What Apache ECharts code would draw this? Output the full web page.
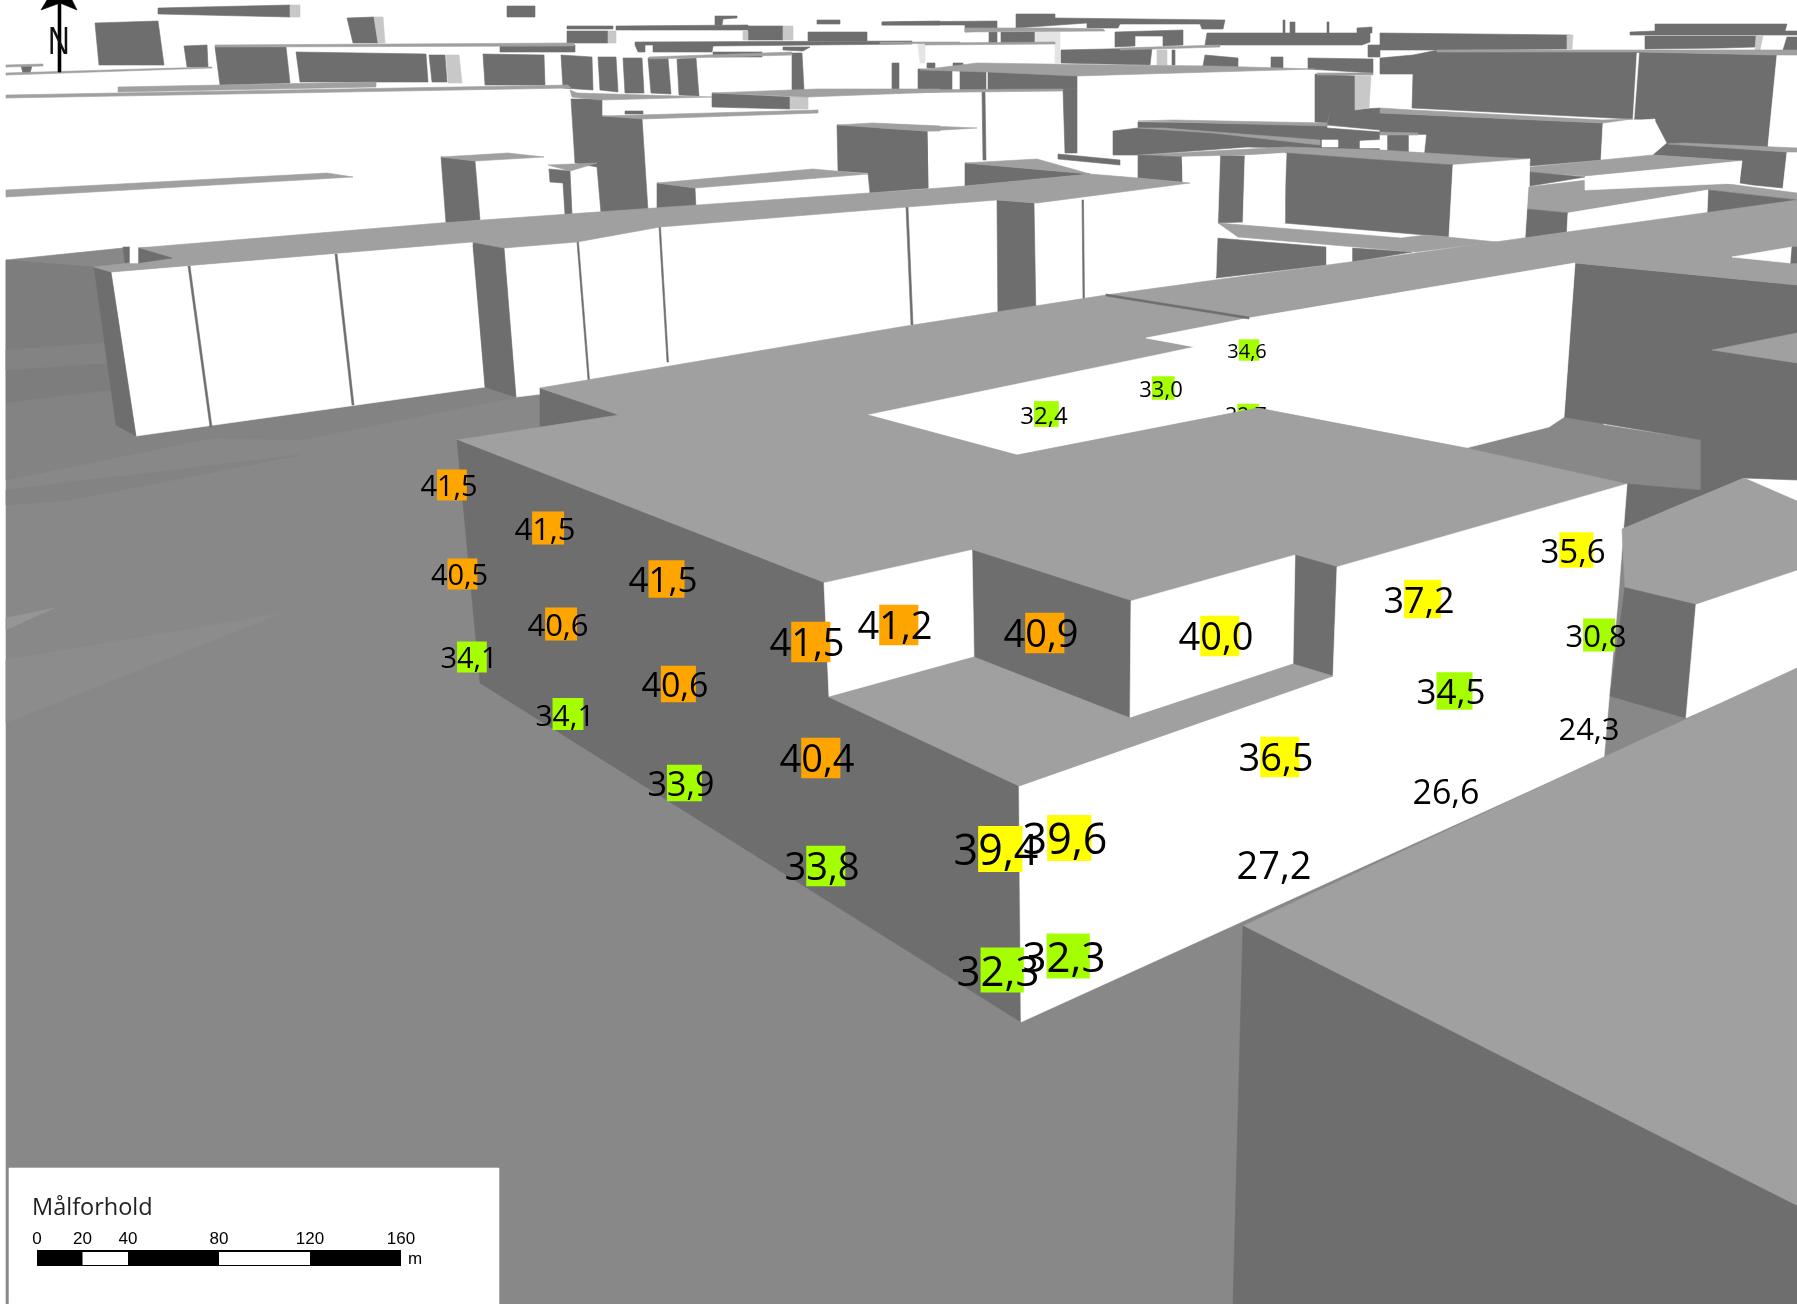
<!DOCTYPE html>
<html><head><meta charset="utf-8">
<style>html,body{margin:0;padding:0;background:#fff}#c{width:1797px;height:1304px}</style>
<script src="https://cdn.jsdelivr.net/npm/echarts@6/dist/echarts.min.js"></script>
</head><body><div id="c"></div>
<script>
// ---- facade values (Målforhold) ----
const labelTexts = ['41,5','41,5','40,5','40,6','41,5','34,1','41,5','40,6','34,1','40,4','33,9','41,2','40,9','40,0','37,2','35,6','30,8','34,5','24,3','26,6','36,5','27,2','39,4','39,6','33,8','32,3','32,3','34,6','33,0','32,4'];
const labelX =     [449,545,459.5,558,663,469,807,675,565,817,681,895,1041,1216,1419,1573,1596,1451,1589,1446,1276,1274,996,1065,822,998,1064,1247,1161,1044];
const labelY =     [486,529,575,625,580,658,643,685,715,759,784,626,634,637,600,551,636,692,729,792,758,866,850,839,867,971,957,351,389,415];
const labelSize =  [29,31,29,31,35,29,38,34,30,38,34,38,38,38,36,33,31,35,31,34,38,38,43,43,38,42,42,20,22,24];
const hiddenTexts = ['32,7']; const hiddenX = [1246]; const hiddenY = [416]; const hiddenSize = [21];

// ---- scale bar ----
const scaleTicks = [0,20,40,80,120,160];
const scaleSegments = [[0,160,'k'],[20,40,'w'],[80,120,'w']];

// ---- scene facets, back to front ----
const farDark = [
 [[158,8],[290,5],[290,17],[158,14]], [[507,6],[535,6],[535,17],[507,17]],
 [[95,23],[158,21],[164,65],[99,65]], [[347,18],[374,17],[378,43],[353,43]],
 [[184,46],[207,45],[208,67],[187,67]], [[215,47],[286,47],[290,83],[220,85]],
 [[296,52],[426,54],[428,82],[300,82]], [[429,55],[445,55],[447,82],[432,82]],
 [[483,54],[544,55],[545,85],[485,85]], [[561,55],[592,57],[593,90],[563,88]],
 [[598,57],[616,57],[618,92],[600,90]], [[623,58],[642,58],[644,93],[625,93]],
 [[648,58],[668,58],[671,94],[651,93]], [[677,59],[696,58],[699,96],[679,95]],
 [[567,26],[613,26],[613,29],[567,29]], [[616,26],[748,25],[748,30],[616,30]],
 [[567,31],[608,31],[608,43],[567,43]], [[748,26],[783,26],[783,40],[748,40]],
 [[715,16],[737,16],[737,18],[723,19],[722,25],[715,25]], [[808,32],[867,32],[867,41],[808,41]],
 [[882,22],[940,21],[940,25],[882,25]], [[817,20],[840,20],[840,24],[817,24]],
 [[500,45],[575,45],[575,52],[500,52]],
 [[635,42],[912,41],[912,44],[713,46],[712,52],[653,52],[653,45],[645,45],[645,52],[638,52],[635,45]],
 [[713,52],[762,52],[762,57],[713,57]], [[783,47],[810,47],[803,51],[783,50]],
 [[21,66],[32,66],[30,73],[23,73]], [[712,93],[790,97],[790,109],[712,107]], [[625,111],[643,111],[643,114],[625,114]],
 [[792,53],[802,53],[804,90],[792,90]], [[892,63],[899,63],[899,90],[892,90]], [[918,69],[952,69],[952,90],[918,90]],
 [[837,125],[927,130],[928,188],[870,193],[868,173],[838,171]],
 [[571,99],[602,99],[602,116],[642,118],[648,211],[601,213],[597,167],[575,163]],
 [[441,157],[475,161],[480,220],[446,223]],
 [[549,169],[570,171],[572,214],[565,215],[563,183],[550,182]],
 [[657,183],[695,188],[696,208],[657,208]],
 [[882,22],[997,21],[997,30],[965,32],[965,25],[882,25]],
 [[1016,14],[1055,14],[1055,18],[1225,20],[1223,29],[1202,29],[1200,24],[1120,24],[1118,28],[1087,28],[1087,23],[1016,28]],
 [[989,32],[997,32],[997,43],[989,43]], [[1001,32],[1035,32],[1035,43],[1001,43]],
 [[1115,32],[1183,30],[1183,45],[1163,46],[1163,36],[1135,36],[1135,46],[1115,47]],
 [[1061,50],[1152,48],[1150,65],[1061,63]], [[1172,50],[1175,50],[1175,65],[1172,65]],
 [[1207,33],[1370,33],[1370,42],[1362,45],[1205,45]], [[1205,55],[1238,58],[1238,68],[1203,66]],
 [[1271,57],[1283,57],[1283,69],[1271,69]], [[1308,58],[1373,59],[1373,73],[1308,69]],
 [[1368,45],[1380,45],[1380,57],[1368,57]], [[1290,22],[1295,22],[1295,33],[1290,33]],
 [[1327,22],[1329,22],[1329,33],[1327,33]], [[1283,20],[1285,20],[1285,33],[1283,33]], [[1357,28],[1372,27],[1372,33],[1357,33]],
 [[953,63],[963,63],[963,68],[953,68]], [[927,63],[935,63],[935,68],[927,68]],
 [[960,71],[986,71],[986,90],[960,90]], [[988,71],[1077,75],[1077,88],[1063,90],[988,90]],
 [[982,92],[985,92],[986,160],[983,160]], [[1063,90],[1077,88],[1077,153],[1065,153]],
 [[880,128],[927,131],[928,188],[880,190]], [[965,163],[1090,174],[965,186]],
 [[1058,154],[1120,160],[1120,165],[1058,159]],
 [[1113,131],[1138,128],[1138,122],[1327,125],[1327,128],[1380,132],[1380,150],[1247,147],[1138,155],[1113,155]],
 [[1315,74],[1355,76],[1355,110],[1330,112],[1327,123],[1315,122]],
 [[1330,111],[1380,108],[1380,130],[1327,125]],
 [[1380,33],[1570,35],[1567,49],[1438,50],[1380,50]],
 [[1380,58],[1413,55],[1438,50],[1638,52],[1777,55],[1768,147],[1667,143],[1655,120],[1632,119],[1412,108],[1413,74],[1380,74]],
 [[1655,24],[1787,24],[1785,31],[1797,31],[1797,35],[1630,35],[1630,32],[1655,31]],
 [[1645,36],[1757,36],[1755,47],[1723,48],[1645,49]], [[1787,37],[1797,37],[1797,50],[1783,50]],
 [[1380,113],[1603,123],[1601,160],[1530,166],[1452,165],[1380,150]],
 [[1667,143],[1787,152],[1783,188],[1753,185],[1740,183],[1742,161],[1653,155]]
];
const farLight = [
 [[290,5],[300,5],[300,17],[290,17]], [[374,17],[383,17],[385,43],[378,43]],
 [[446,55],[459,55],[462,83],[448,83]], [[783,26],[793,26],[793,40],[783,40]],
 [[608,31],[616,31],[616,43],[608,43]], [[743,31],[748,31],[748,40],[743,40]],
 [[790,97],[808,97],[808,109],[790,109]], [[1567,35],[1573,35],[1572,49],[1567,49]],
 [[1355,76],[1371,76],[1369,108],[1355,110]], [[1157,50],[1167,50],[1167,65],[1157,65]],
 [[1756,36],[1763,36],[1760,50],[1755,50]]
];
const farPale = [
 [[918,44],[925,44],[925,63],[920,63]],
 [[1035,32],[1060,32],[1060,63],[1055,63],[1055,43],[1035,43]]
];
const farWhite = [
 [[1777,55],[1797,55],[1797,148],[1768,146]], [[1603,123],[1655,119],[1653,156],[1601,160]],
 [[1637,53],[1639,53],[1634,119],[1633,119]], [[1787,152],[1797,152],[1797,188],[1783,188]],
 [[1380,135],[1387,135],[1387,150],[1380,150]], [[1409,135],[1426,135],[1424,153],[1409,152]],
 [[1322,140],[1338,140],[1338,147],[1322,147]], [[1360,141],[1380,140],[1380,148],[1360,148]]
];
const farRoof = [
 [[215,45],[574,43],[574,46],[215,47]], [[649,57],[792,52],[792,55],[649,59]],
 [[6,73],[212,67],[212,68],[6,75]], [[6,65],[43,64],[43,66],[6,67]],
 [[118,87],[376,82],[376,87],[118,92]], [[6,95],[568,85],[571,88],[6,98]],
 [[6,190],[327,173],[353,177],[6,197]], [[570,90],[577,93],[712,97],[600,100],[572,97]],
 [[602,116],[818,110],[818,113],[643,119]], [[712,93],[817,89],[940,89],[940,92],[807,97]],
 [[837,125],[873,123],[940,126],[940,131],[927,131]], [[441,157],[508,153],[544,157],[475,161]],
 [[548,165],[597,163],[570,171]], [[657,183],[813,169],[868,174],[695,188]],
 [[880,90],[1063,89],[1063,91],[880,93]], [[880,124],[977,128],[927,131],[880,128]],
 [[965,163],[1037,159],[1090,174]], [[880,42],[960,42],[960,43],[880,44]], [[925,43],[1055,42],[1055,44],[925,45]],
 [[965,28],[1058,28],[1103,29],[1105,31],[965,32]], [[1120,48],[1220,45],[1220,47],[1120,50]],
 [[977,63],[1113,65],[1213,66],[1315,69],[1077,76],[987,72],[920,70]], [[1317,73],[1373,73],[1373,75],[1317,75]],
 [[1138,121],[1173,120],[1327,123],[1327,126],[1247,124]], [[1138,128],[1163,128],[1320,140],[1320,145],[1213,133]],
 [[1138,155],[1287,147],[1380,150],[1380,160],[1287,153],[1220,156],[1182,157]],
 [[1380,132],[1418,133],[1418,135],[1380,135]],
 [[1437,50],[1797,50],[1797,55],[1777,55],[1638,52],[1437,52]],
 [[1380,108],[1412,110],[1603,120],[1632,119],[1603,123],[1380,113]],
 [[1668,144],[1683,143],[1797,148],[1797,152],[1787,152]],
 [[1380,150],[1490,157],[1530,159],[1452,165],[1380,160]],
 [[1530,167],[1653,155],[1742,161],[1585,176],[1530,172]],
 [[1528,187],[1613,177],[1698,180],[1797,193],[1797,200],[1708,190],[1568,213],[1527,209]]
];
const midDark = [
 [[1138,155],[1182,157],[1182,182],[1138,178]], [[1287,153],[1380,160],[1453,165],[1449,237],[1284,223]],
 [[1220,156],[1245,156],[1243,222],[1216,223]], [[1216,238],[1326,247],[1326,265],[1216,278]],
 [[1352,248],[1412,252],[1352,262]], [[1530,172],[1585,177],[1530,186]],
 [[1527,209],[1568,213],[1567,232],[1525,238]], [[1708,190],[1797,200],[1797,206],[1707,213]]
];
const midWhite = [
 [[1453,165],[1530,159],[1525,238],[1497,242],[1449,237]], [[1182,157],[1220,156],[1216,277],[1189,283]],
 [[1245,156],[1285,153],[1285,223],[1243,222]], [[1327,247],[1352,245],[1352,262],[1327,265]],
 [[1585,177],[1742,161],[1739,183],[1585,190]], [[1568,213],[1708,190],[1707,213],[1567,232]]
];
const midRoof = [[[1218,223],[1401,238],[1427,235],[1497,242],[1415,252],[1238,237]]];
const groundBase = [[[6,260],[123,248],[500,245],[1600,420],[1797,700],[1797,1304],[6,1304]]];
const groundDeep = [[[6,260],[94,267],[115,420],[6,403]]];
const groundMid = [[[6,350],[104,343],[107,363],[6,370]], [[6,403],[114,390],[116,425],[6,445]],
 [[6,445],[116,425],[136,436],[300,420],[6,480]], [[136,436],[485,387],[516,397],[300,440]],
 [[6,490],[300,455],[70,500],[6,505]]];
const groundPale = [[[6,660],[282,613],[6,723]]];
const groundWedge = [[[6,630],[54,608],[6,618]]];
const longWallWhite = [
 [[111,272],[472,242],[485,387],[136,436]], [[504,248],[900,205],[997,200],[998,340],[516,397]],
 [[1034,203],[1189,183],[1189,283],[1036,320]]
];
const longWallDark = [
 [[94,267],[111,272],[136,436],[116,425]], [[473,242],[504,248],[516,397],[485,387]],
 [[997,200],[1034,203],[1036,320],[998,330]],
 [[188,266],[190,266],[212,427],[210,427]], [[335,254],[337,254],[354,405],[352,405]],
 [[577,242],[578.5,242],[589.5,380],[588,380]], [[659,227],[660.5,227],[668.5,362],[667,362]],
 [[906,207],[908,207],[913,325],[911,325]], [[1082,200],[1083.5,200],[1084.5,300],[1083,300]]
];
const longWallRoof = [
 [[94,267],[172,258],[138,248],[440,223],[940,188],[965,186],[1090,174],[1138,178],[1190,183],[1037,203],[997,200],[907,207],[660,227],[577,242],[504,248],[472,242],[111,272]]
];
const recessDark = [[[123,247],[130,247],[130,262],[125,263]], [[138,248],[172,258],[138,263]], [[540,388],[619,415],[540,427]]];
const recessWhite = [[[130,247],[138,247],[138,263],[130,263]]];
const rightGround = [[[1466,448],[1552,417],[1701,440],[1701,490],[1627,484]]];
const rightDark = [[[1575,263],[1797,285],[1797,480],[1744,478],[1622,529],[1627,484],[1701,490],[1701,440],[1564,417]]];
const rightRoof = [[[1712,350],[1797,333],[1797,363]]];
const roofBack = [
 [[457,440],[619,415],[540,388],[900,327],[1106,295],[1249,318],[1146,338],[1195,347],[868,415],[700,440]],
 [[1106,295],[1215,280],[1380,258],[1567,232],[1797,200],[1797,285],[1575,263],[1249,318]]
];
const patioWhite = [
 [[1249,318],[1575,263],[1564,417],[1549,427],[1466,448],[1258,408],[1017,455],[868,415],[1195,347],[1146,338]],
 [[1732,257],[1792,247],[1790,263]]
];
const roofCrack = [[[1106,294],[1249,317],[1249,319],[1106,296]], [[1792,247],[1797,247],[1797,263],[1791,263]]];
const roofFront = [[[457,440],[700,440],[868,415],[1017,455],[1258,408],[1466,448],[1627,484],[1337,567],[1295,555],[1131,601],[972,550],[824,583]]];
const mainDark = [
 [[457,440],[824,583],[829,697],[1019,786],[1021,1022],[480,683]],
 [[972,550],[1131,601],[1130,718],[974,657]], [[1295,555],[1337,567],[1333,676],[1293,664]]
];
const mainWhite = [
 [[824,583],[972,550],[974,657],[829,697]], [[1131,601],[1295,555],[1293,664],[1130,718]],
 [[1019,786],[1333,676],[1337,567],[1627,484],[1618,600],[1611,676],[1604,757],[1021,1022]]
];
const terrace = [[[829,697],[974,657],[1130,718],[1293,664],[1333,676],[1019,786]]];
const neighbourDark = [[[1625,587],[1696,604],[1686,718],[1610,696]]];
const neighbourWhite = [[[1696,604],[1797,570],[1797,670],[1686,718]]];
const neighbourRoof = [[[1625,587],[1622,529],[1744,478],[1797,501],[1797,570],[1696,604]]];
const foregroundRoof = [[[1243,926],[1604,757],[1797,668],[1797,1206]]];
const foregroundDark = [[[1243,926],[1797,1206],[1797,1304],[1233,1304]]];
const northArrow = [[[58,0],[61,0],[61,72],[58,72]], [[47,0],[72,0],[77,10],[60,3],[41,10]]];
const legendBox = [[[9,1168],[499,1168],[499,1304],[9,1304]]];

const tones = {dark:'#6e6e6e', roof:'#a0a0a0', light:'#c8c8c8', pale:'#e4e4e4', white:'#ffffff', ground:'#888888', deep:'#7d7d7d', mid:'#838383', paleGround:'#8c8c8c', wedge:'#969696', black:'#000000'};
const patchColour = v => { const n = parseFloat(v.replace(',', '.')); return n > 40 ? '#ffa500' : n >= 35 ? '#ffff00' : n >= 30 ? '#a5ff00' : null; };

const backLayers = [
 ['dark',farDark],['light',farLight],['pale',farPale],['white',farWhite],['roof',farRoof],
 ['ground',groundBase],['deep',groundDeep],['mid',groundMid],['paleGround',groundPale],['wedge',groundWedge],
 ['dark',midDark],['white',midWhite],['roof',midRoof],
 ['white',longWallWhite],['dark',longWallDark],['roof',longWallRoof],['dark',recessDark],['white',recessWhite],
 ['ground',rightGround],['dark',rightDark],['roof',rightRoof],
 ['roof',roofBack],['white',patioWhite],['dark',roofCrack]
];
const frontLayers = [
 ['roof',roofFront],['dark',mainDark],['white',mainWhite],['roof',terrace],
 ['dark',neighbourDark],['white',neighbourWhite],['roof',neighbourRoof],
 ['roof',foregroundRoof],['dark',foregroundDark],
 ['black',northArrow],['white',legendBox]
];
const flat = layers => layers.flatMap(([t,ps]) => ps.map(p => ({tone:t, pts:p})));
const polySeries = (layers, z) => {
  const items = flat(layers);
  return {type:'custom', coordinateSystem:'cartesian2d', xAxisIndex:0, yAxisIndex:0, z, silent:true, animation:false, progressive:0,
    data: items.map((_,i)=>[i]), encode:{x:0,y:0},
    renderItem:(params,api)=>{ const it = items[api.value(0)]; const c = tones[it.tone];
      return {type:'polygon', shape:{points:it.pts.map(p=>api.coord(p))}, style:{fill:c, stroke:c, lineWidth:0.6}}; }};
};
const labelSeries = (texts,xs,ys,sizes,z) => ({type:'custom', coordinateSystem:'cartesian2d', xAxisIndex:0, yAxisIndex:0, z, silent:true, animation:false, progressive:0,
    data: texts.map((t,i)=>[xs[i],ys[i],sizes[i],i]), encode:{x:0,y:1},
    renderItem:(params,api)=>{ const [x,y]=api.coord([api.value(0),api.value(1)]); const f=api.value(2); const t=texts[api.value(3)]; const col=patchColour(t); const kids=[];
      const w=f*1.03,h=f*1.07,cx=x+f*0.1,cy=y-1;
      if(col) kids.push({type:'rect',shape:{x:cx-w/2,y:cy-h/2,width:w,height:h},style:{fill:col}});
      kids.push({type:'text',style:{text:t,x,y:y+f*0.07,align:'center',verticalAlign:'middle',fill:'#000',font:`${f}px "Open Sans"`}});
      return {type:'group',children:kids}; }});

const chart = echarts.init(document.getElementById('c'), null, {renderer:'canvas', width:1797, height:1304});
chart.setOption({
  animation:false, backgroundColor:'#fff',
  title:{text:'Målforhold', left:27, top:1191, textStyle:{fontFamily:'Open Sans', fontWeight:'normal', fontSize:23.5, color:'#222'}, z:20},
  grid:[{left:0,right:0,top:0,bottom:0},{left:37,width:364,top:1250,height:16,z:20}],
  xAxis:[{type:'value',min:0,max:1797,show:false,gridIndex:0},
    {type:'value',gridIndex:1,min:0,max:160,interval:20,position:'top',z:20,axisLine:{show:false},axisTick:{show:false},splitLine:{show:false},
     axisLabel:{customValues:scaleTicks,margin:2,fontFamily:'Liberation Sans',fontSize:17,color:'#000'}}],
  yAxis:[{type:'value',min:0,max:1304,inverse:true,show:false,gridIndex:0},
    {type:'value',gridIndex:1,min:0,max:1,show:false}],
  graphic:[
    {type:'text',left:408,top:1251,z:30,style:{text:'m',font:'17px "Liberation Sans"',fill:'#000'}},
    {type:'text',x:48,y:24,scaleY:1.3,z:30,style:{text:'N',font:'30px "Liberation Sans"',fill:'#111'}}
  ],
  series:[
    polySeries(backLayers,1),
    labelSeries(hiddenTexts,hiddenX,hiddenY,hiddenSize,2),
    polySeries(frontLayers,3),
    labelSeries(labelTexts,labelX,labelY,labelSize,4),
    {type:'custom',coordinateSystem:'cartesian2d',xAxisIndex:1,yAxisIndex:1,z:10,silent:true,animation:false,progressive:0,
     data:scaleSegments.map((s,i)=>[s[0],s[1],i]),encode:{x:[0,1]},
     renderItem:(params,api)=>{ const a=api.coord([api.value(0),1]),b=api.coord([api.value(1),0]); const seg=scaleSegments[api.value(2)]; const w=seg[2]==='w';
       return {type:'rect',shape:{x:a[0],y:a[1]+(w?2:0),width:b[0]-a[0],height:b[1]-a[1]-(w?3:0)},style:{fill:w?'#fff':'#000'}}; }}
  ]
});
</script></body></html>
